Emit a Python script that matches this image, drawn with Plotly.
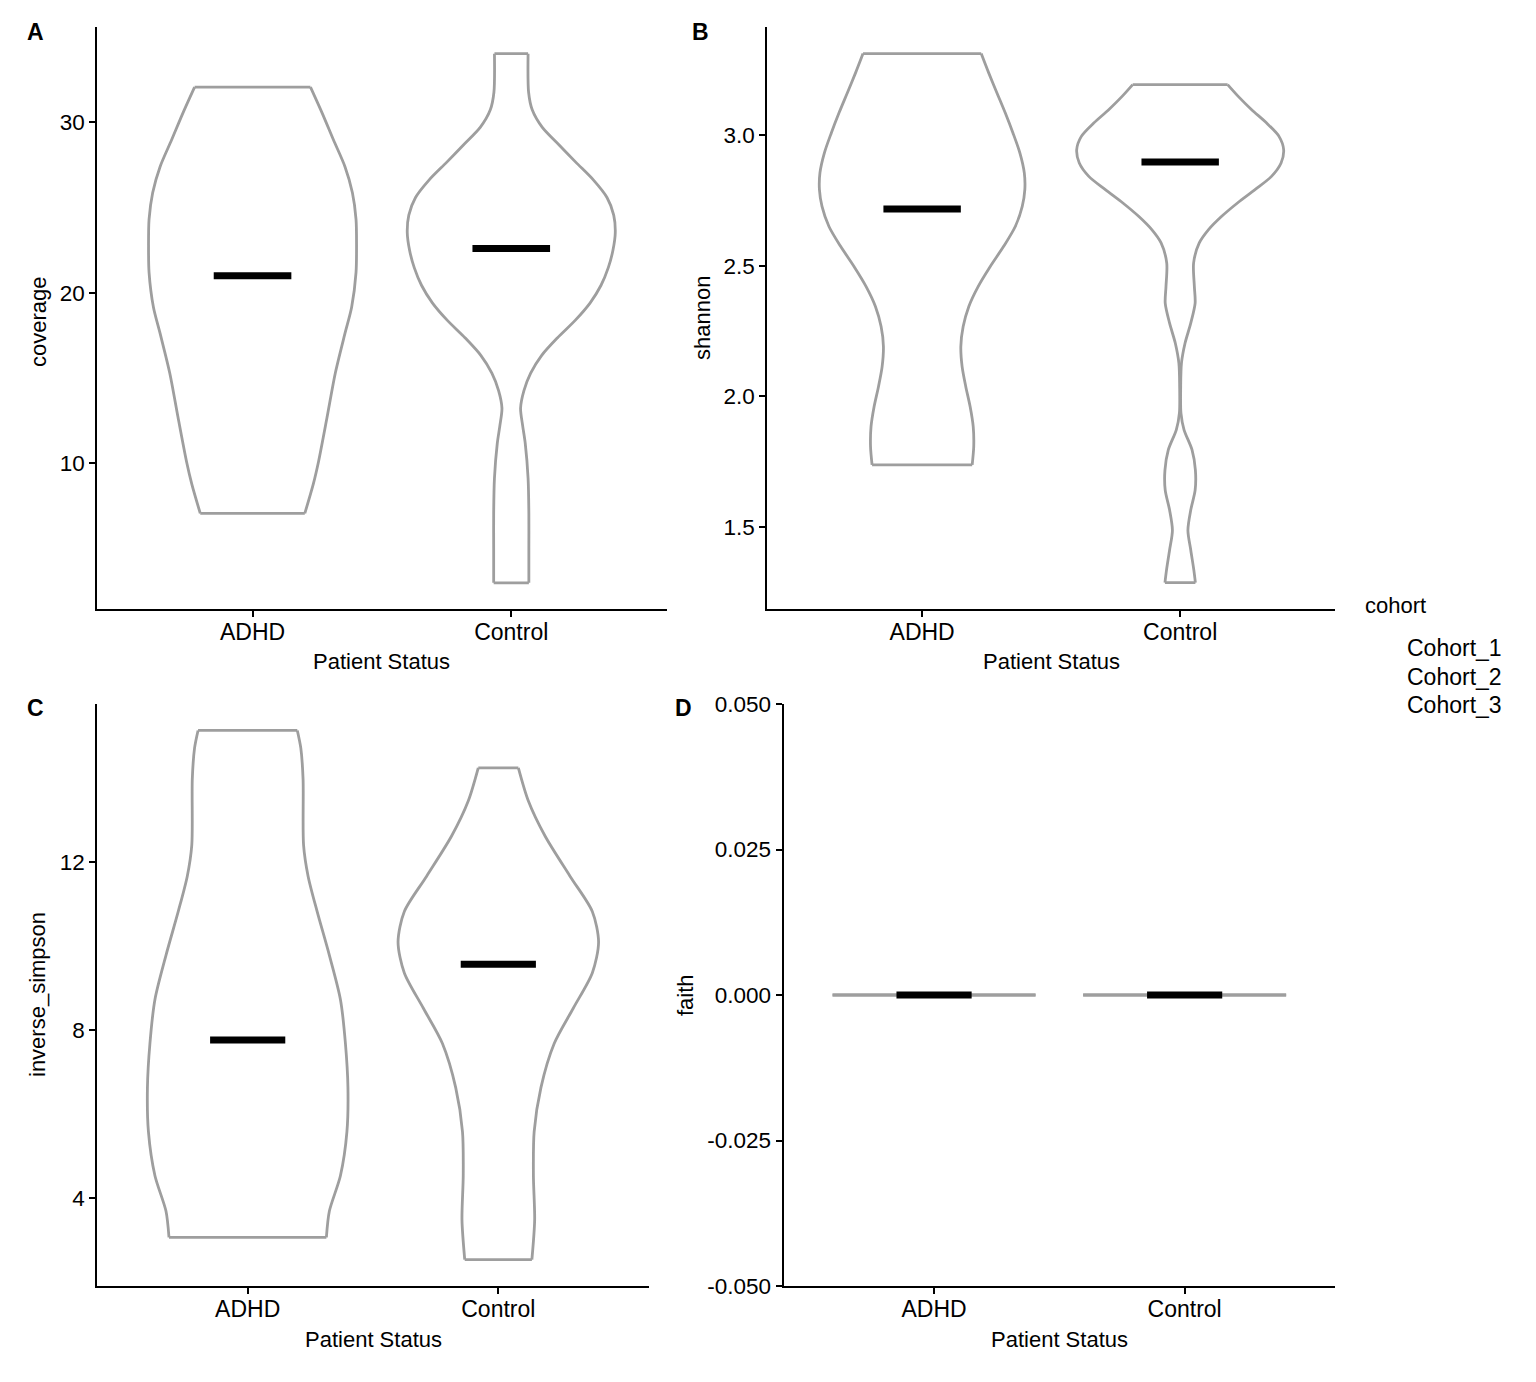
import plotly.graph_objects as go

W_PX, H_PX = 1536, 1382
PAGE_OFFSET = 8  # the page body adds 8px before the figure

CATS = ["ADHD", "Control"]
POS = [1, 2]

# violin outlines: y levels and half widths (in category units)
# panel A - coverage
COV_ADHD_Y = [32.05, 30.5, 28.95, 27.4, 25.86, 24.3, 22.76, 21.2, 19.15, 17.6, 15.3, 12.7, 10.1, 8.8, 7.07]
COV_ADHD_W = [0.224, 0.27, 0.313, 0.357, 0.386, 0.40, 0.402, 0.40, 0.383, 0.357, 0.32, 0.288, 0.255, 0.235, 0.202]
COV_CTRL_Y = [34.01, 31.75, 30.72, 29.69, 28.66, 27.64, 26.6, 25.58, 24.55, 23.52, 22.49, 21.47, 20.44,
              19.41, 18.38, 17.35, 16.32, 15.29, 14.27, 13.24, 12.21, 11.18, 9.13, 7.07, 5.02, 3.0]
COV_CTRL_W = [0.065, 0.067, 0.081, 0.12, 0.185, 0.25, 0.318, 0.37, 0.396, 0.402, 0.393, 0.375, 0.347,
              0.305, 0.247, 0.178, 0.117, 0.075, 0.049, 0.036, 0.044, 0.054, 0.065, 0.068, 0.068, 0.068]
COV_MEDIAN = [21.0, 22.6]

# panel B - shannon
SHA_ADHD_Y = [3.312, 3.238, 3.161, 3.085, 3.008, 2.931, 2.855, 2.791, 2.727, 2.65, 2.574, 2.497, 2.42,
              2.344, 2.267, 2.191, 2.114, 2.038, 1.961, 1.884, 1.808, 1.738]
SHA_ADHD_W = [0.229, 0.258, 0.29, 0.322, 0.352, 0.379, 0.396, 0.398, 0.388, 0.361, 0.316, 0.264, 0.217,
              0.181, 0.159, 0.15, 0.155, 0.169, 0.186, 0.198, 0.2, 0.194]
SHA_CTRL_Y = [3.193, 3.148, 3.097, 3.046, 2.995, 2.944, 2.893, 2.842, 2.791, 2.74, 2.689, 2.638, 2.587,
              2.51, 2.42, 2.357, 2.28, 2.204, 2.127, 2.038, 1.936, 1.872, 1.795, 1.718, 1.641, 1.565,
              1.488, 1.412, 1.335, 1.287]
SHA_CTRL_W = [0.184, 0.225, 0.277, 0.335, 0.383, 0.401, 0.391, 0.354, 0.29, 0.222, 0.161, 0.11, 0.074,
              0.052, 0.055, 0.058, 0.041, 0.019, 0.005, 0.002, 0.003, 0.015, 0.046, 0.059, 0.058, 0.041,
              0.030, 0.041, 0.053, 0.059]
SHA_MEDIAN = [2.717, 2.897]

# panel C - inverse_simpson
INV_ADHD_Y = [15.14, 14.72, 13.98, 12.41, 11.67, 10.83, 9.785, 8.735, 7.685, 6.635, 5.585, 4.535, 3.695, 3.07]
INV_ADHD_W = [0.198, 0.212, 0.221, 0.223, 0.241, 0.277, 0.326, 0.37, 0.39, 0.40, 0.396, 0.37, 0.326, 0.314]
INV_CTRL_Y = [14.25, 13.46, 12.62, 11.67, 10.83, 10.1, 9.365, 8.525, 7.685, 6.635, 5.585, 4.535, 3.485, 2.54]
INV_CTRL_W = [0.08, 0.12, 0.187, 0.286, 0.375, 0.40, 0.375, 0.299, 0.223, 0.17, 0.143, 0.14, 0.145, 0.134]
INV_MEDIAN = [7.77, 9.575]

# panel D - faith (all zero, so the violins collapse)
FAI_ADHD_Y = [0.0]
FAI_ADHD_W = [0.405]
FAI_CTRL_Y = [0.0]
FAI_CTRL_W = [0.405]
FAI_MEDIAN = [0.0, 0.0]

COHORTS = ["Cohort_1", "Cohort_2", "Cohort_3"]

A_TICKS = [10, 20, 30]
B_TICKS = [1.5, 2.0, 2.5, 3.0]
B_TICK_TEXT = ["1.5", "2.0", "2.5", "3.0"]
C_TICKS = [4, 8, 12]
D_TICKS = [-0.05, -0.025, 0.0, 0.025, 0.05]
D_TICK_TEXT = ["-0.050", "-0.025", "0.000", "0.025", "0.050"]

GREY = "#9e9e9e"
FONT = "Liberation Sans, Arial, Helvetica, sans-serif"
MED_HALF = 0.15

fig = go.Figure()


def add_violin(pos, ys, ws, median, xa, ya):
    right = [pos + w for w in ws]
    left = [pos - w for w in ws]
    # two sides, smoothed
    for side in (right, left):
        fig.add_trace(go.Scatter(x=side, y=ys, mode="lines", xaxis=xa, yaxis=ya,
                                 line=dict(color=GREY, width=2.8, shape="spline", smoothing=0.8),
                                 hoverinfo="skip"))
    # flat top and bottom
    fig.add_trace(go.Scatter(x=[left[0], right[0], None, left[-1], right[-1]],
                             y=[ys[0], ys[0], None, ys[-1], ys[-1]],
                             mode="lines", xaxis=xa, yaxis=ya,
                             line=dict(color=GREY, width=2.8), hoverinfo="skip"))
    # median bar
    fig.add_trace(go.Scatter(x=[pos - MED_HALF, pos + MED_HALF], y=[median, median],
                             mode="lines", xaxis=xa, yaxis=ya,
                             line=dict(color="black", width=7), hoverinfo="skip"))


panels = [
    ("x", "y", [(COV_ADHD_Y, COV_ADHD_W), (COV_CTRL_Y, COV_CTRL_W)], COV_MEDIAN),
    ("x2", "y2", [(SHA_ADHD_Y, SHA_ADHD_W), (SHA_CTRL_Y, SHA_CTRL_W)], SHA_MEDIAN),
    ("x3", "y3", [(INV_ADHD_Y, INV_ADHD_W), (INV_CTRL_Y, INV_CTRL_W)], INV_MEDIAN),
    ("x4", "y4", [(FAI_ADHD_Y, FAI_ADHD_W), (FAI_CTRL_Y, FAI_CTRL_W)], FAI_MEDIAN),
]
for xa, ya, shapes, medians in panels:
    for pos, (ys, ws), med in zip(POS, shapes, medians):
        add_violin(pos, ys, ws, med, xa, ya)


def px_x(px):
    return (px - PAGE_OFFSET) / W_PX


def px_y(py):
    return 1 - (py - PAGE_OFFSET) / H_PX


axis_common = dict(showline=True, linecolor="black", linewidth=2.2, ticks="outside",
                   ticklen=6, tickwidth=2, tickcolor="black", showgrid=False, zeroline=False,
                   automargin=False, tickfont=dict(family=FONT, size=23, color="black"))


def xaxis(dom, anchor):
    return dict(axis_common, domain=dom, anchor=anchor, range=[0.4, 2.6],
                tickmode="array", tickvals=POS, ticktext=CATS, ticklabelstandoff=-5)


def yaxis(dom, anchor, rng, tv, tt=None):
    d = dict(axis_common, domain=dom, anchor=anchor, range=rng, tickmode="array", tickvals=tv,
             tickfont=dict(family=FONT, size=22.5, color="black"))
    if tt is not None:
        d["ticktext"] = tt
    return d


top_dom = [px_y(609.3), px_y(27.4)]
bot_dom = [px_y(1286), px_y(704)]

fig.update_layout(
    width=W_PX, height=H_PX, autosize=False,
    margin=dict(l=0, r=0, t=0, b=0, pad=0, autoexpand=False),
    paper_bgcolor="white", plot_bgcolor="white",
    showlegend=False,
    font=dict(family=FONT, color="black"),
    xaxis=xaxis([px_x(97.3), px_x(666.5)], "y"),
    yaxis=yaxis(top_dom, "x", [1.45, 35.55], A_TICKS),
    xaxis2=xaxis([px_x(767.3), px_x(1335)], "y2"),
    yaxis2=yaxis(top_dom, "x2", [1.185, 3.412], B_TICKS, B_TICK_TEXT),
    xaxis3=xaxis([px_x(97.3), px_x(648.7)], "y3"),
    yaxis3=yaxis(bot_dom, "x3", [1.91, 15.77], C_TICKS),
    xaxis4=xaxis([px_x(783.7), px_x(1335)], "y4"),
    yaxis4=yaxis(bot_dom, "x4", [-0.05, 0.05], D_TICKS, D_TICK_TEXT),
)

annotations = []


def note(text, x, y, size, xanchor="center", angle=0, bold=False):
    if bold:
        text = "<b>" + text + "</b>"
    annotations.append(dict(text=text, x=px_x(x), y=px_y(y), xref="paper", yref="paper",
                            xanchor=xanchor, yanchor="middle", showarrow=False, textangle=angle,
                            font=dict(family=FONT, size=size, color="black")))


# x-axis titles
note("Patient Status", 381.9, 661, 22)
note("Patient Status", 1051, 661, 22)
note("Patient Status", 373, 1339, 22)
note("Patient Status", 1059, 1339, 22)
# y-axis titles
note("coverage", 39, 322, 22, angle=-90)
note("shannon", 702, 318, 22, angle=-90)
note("inverse_simpson", 37, 995, 22, angle=-90)
note("faith", 685, 995, 22, angle=-90)
# panel tags
note("A", 35, 32, 23, bold=True)
note("B", 700, 32, 23, bold=True)
note("C", 35, 708, 23, bold=True)
note("D", 683, 708, 23, bold=True)
# legend
note("cohort", 1363, 606, 22, xanchor="left")
for i, c in enumerate(COHORTS):
    note(c, 1405, 648 + i * 28.5, 23, xanchor="left")

fig.update_layout(annotations=annotations)

fig.write_html("out.html")
